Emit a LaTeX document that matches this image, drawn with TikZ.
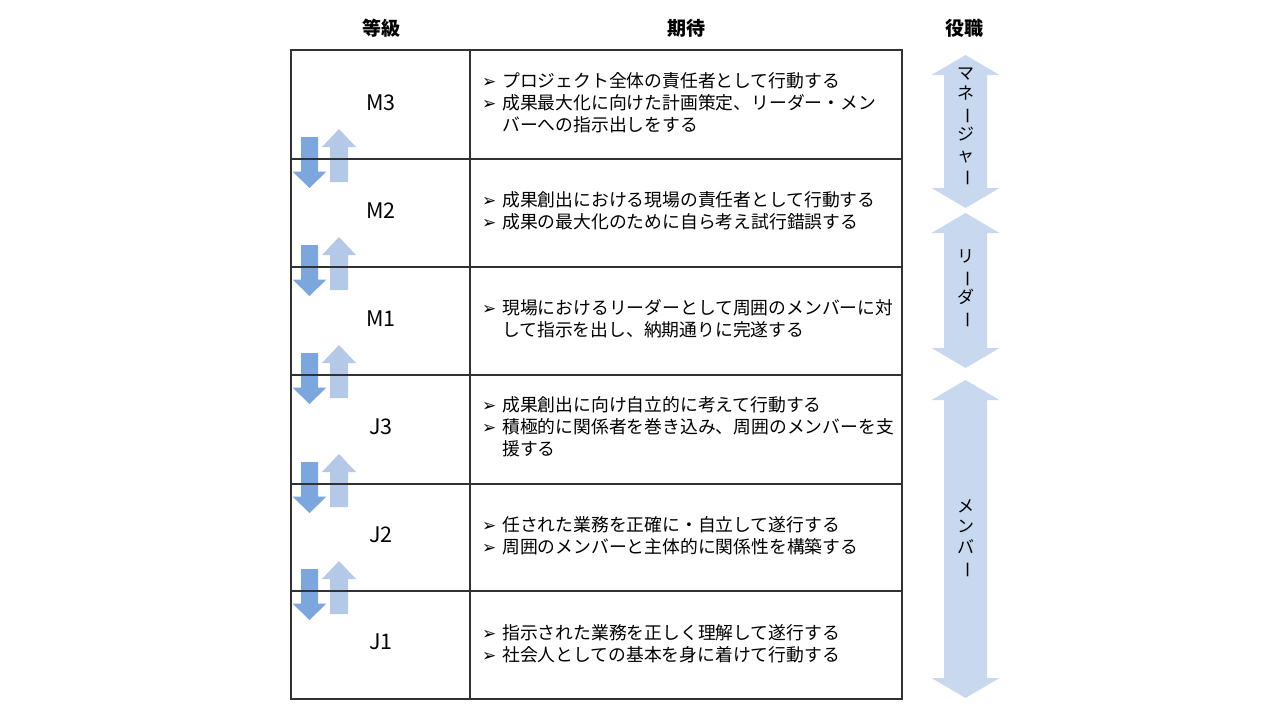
\documentclass[tikz,border=0pt]{standalone}
\usepackage{fontspec}
\setmainfont{Noto Sans CJK JP}
\newfontfamily\symfont{DejaVu Sans}
\usetikzlibrary{positioning}
\definecolor{downblue}{RGB}{124,166,222}
\definecolor{upblue}{RGB}{180,201,232}
\definecolor{roleblue}{RGB}{200,216,239}
\definecolor{gridline}{RGB}{50,50,50}
\newcommand{\bul}{\makebox[20pt][l]{\symfont\fontsize{17}{22}\selectfont ➢}}
\newcommand{\cont}{\hspace*{20pt}}
\newcommand{\vbar}{\rotatebox[origin=c]{-90}{ー}}
\tikzset{
  head/.style={font=\bfseries\fontsize{19}{22}\selectfont},
  grade/.style={font=\fontsize{21.5}{22}\selectfont},
  expect/.style={anchor=west,align=left,inner sep=0pt,font=\fontsize{17.8}{22}\selectfont},
  role/.style={align=center,inner sep=0pt,font=\fontsize{17}{20.5}\selectfont},
  grid/.style={gridline,line width=1.2pt},
}
\begin{document}
\begin{tikzpicture}[x=1pt,y=-1pt]
    \useasboundingbox (0,0) rectangle (1280,720);
    % headers
    \node[head] at (381,28) (h1) {等級};
    \node[head] at (686,28) (h2) {期待};
    \node[head] at (964,28) (h3) {役職};
    % up/down arrows between grades
    \foreach \yb in {159,267,375,484,591}{
      \fill[downblue] (301,\yb-22) -- (318,\yb-22) -- (318,\yb+12.5) -- (326.5,\yb+12.5)
        -- (309.5,\yb+29) -- (292.5,\yb+12.5) -- (301,\yb+12.5) -- cycle;
      \fill[upblue] (330,\yb+23) -- (348,\yb+23) -- (348,\yb-12) -- (356,\yb-12)
        -- (339,\yb-30) -- (322,\yb-12) -- (330,\yb-12) -- cycle;
    }
    % role arrows
    \foreach \ya/\yz in {55/208,213/368,380/698}{
      \fill[roleblue] (965.5,\ya) -- (999.5,\ya+20) -- (987,\ya+20) -- (987,\yz-20) -- (999.5,\yz-20)
        -- (965.5,\yz) -- (931.5,\yz-20) -- (944,\yz-20) -- (944,\ya+20) -- (931.5,\ya+20) -- cycle;
    }
    % table
    \draw[grid] (291,50) rectangle (902,699);
    \draw[grid] (470,50) -- (470,699);
    \foreach \yb in {159,267,375,484,591}
      \draw[grid] (291,\yb) -- (902,\yb);
    % grades
    \node[grade] at (381,103) (m3) {M3};
    \node[grade] at (381,211) (m2) {M2};
    \node[grade] at (381,319) (m1) {M1};
    \node[grade] at (381,427) (j3) {J3};
    \node[grade] at (381,535) (j2) {J2};
    \node[grade] at (381,642) (j1) {J1};
    % expectations
    \node[expect] at (482,103) (e3) {\bul プロジェクト全体の責任者として行動する\\
      \bul 成果最大化に向けた計画策定、リーダー・メン\\
      \cont バーへの指示出しをする};
    \node[expect] at (482,211) (e2) {\bul 成果創出における現場の責任者として行動する\\
      \bul 成果の最大化のために自ら考え試行錯誤する};
    \node[expect] at (482,319) (e1) {\bul 現場におけるリーダーとして周囲のメンバーに対\\
      \cont して指示を出し、納期通りに完遂する};
    \node[expect] at (482,427) (f3) {\bul 成果創出に向け自立的に考えて行動する\\
      \bul 積極的に関係者を巻き込み、周囲のメンバーを支\\
      \cont 援する};
    \node[expect] at (482,536) (f2) {\bul 任された業務を正確に・自立して遂行する\\
      \bul 周囲のメンバーと主体的に関係性を構築する};
    \node[expect] at (482,644) (f1) {\bul 指示された業務を正しく理解して遂行する\\
      \bul 社会人としての基本を身に着けて行動する};
    % roles
    \node[role] at (965.5,127) (r1) {マ\\ネ\\\vbar\\ジ\\ャ\\\vbar};
    \node[role] at (965.5,289) (r2) {リ\\\vbar\\ダ\\\vbar};
    \node[role] at (965.5,539) (r3) {メ\\ン\\バ\\\vbar};
\end{tikzpicture}
\end{document}
